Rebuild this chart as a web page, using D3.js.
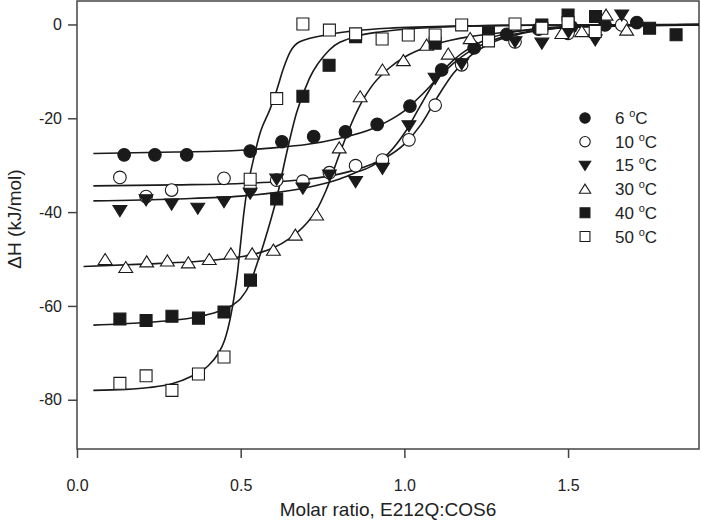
<!DOCTYPE html>
<html><head><meta charset="utf-8">
<script src="https://cdn.jsdelivr.net/npm/d3@7"></script>
<style>body{margin:0;background:#fff}svg{display:block}text{font-family:"Liberation Sans",Arial,sans-serif;fill:#222}</style>
</head><body>
<svg id="c" width="701" height="522"></svg>
<script>
// ---- data ----
const legendLabels = ["6", "10", "15", "30", "40", "50"];
const xTicks = [0, 0.5, 1.0, 1.5];
const yTicks = [0, -20, -40, -60, -80];

const s6x = [0.144,0.238,0.335,0.529,0.626,0.723,0.820,0.917,1.017,1.114,1.213,1.313,1.41,1.51,1.613,1.710];
const s6y = [-27.8,-27.8,-27.8,-27.0,-25.0,-23.9,-22.9,-21.3,-17.4,-9.7,-5.0,-2.1,-1.0,-0.5,-0.1,0.4];
const s10x = [0.131,0.211,0.289,0.449,0.529,0.610,0.690,0.771,0.851,0.933,1.014,1.094,1.175,1.338,1.50,1.664];
const s10y = [-32.6,-36.7,-35.3,-32.8,-34.9,-33.2,-33.4,-31.6,-30.1,-28.9,-24.6,-17.2,-8.6,-3.7,-1.9,-0.1];
const s15x = [0.131,0.211,0.289,0.369,0.449,0.529,0.610,0.690,0.771,0.851,0.933,1.014,1.094,1.175,1.338,1.42,1.50,1.583,1.664];
const s15y = [-39.7,-37.4,-38.3,-39.2,-37.8,-36.0,-33.0,-34.9,-32.1,-33.5,-30.7,-21.6,-11.5,-8.4,-3.7,-4.0,-1.8,-3.3,2.0];
const s30x = [0.086,0.149,0.213,0.276,0.340,0.404,0.470,0.535,0.600,0.667,0.732,0.801,0.865,0.933,0.997,1.068,1.134,1.201,1.481,1.542,1.616,1.679];
const s30y = [-50.1,-51.8,-50.6,-50.4,-50.8,-50.1,-48.9,-48.9,-48.1,-44.9,-40.6,-26.3,-15.4,-9.7,-7.7,-4.4,-6.3,-3.0,-1.9,-1.5,2.0,-1.2];
const s40x = [0.131,0.211,0.290,0.371,0.449,0.530,0.610,0.690,0.770,0.851,1.094,1.257,1.42,1.50,1.584,1.749,1.830];
const s40y = [-62.8,-63.1,-62.2,-62.6,-61.3,-54.5,-37.2,-15.3,-8.7,-2.6,-4.0,-1.8,-0.1,2.0,1.7,-0.8,-2.2];
const s50x = [0.131,0.211,0.290,0.371,0.449,0.529,0.610,0.690,0.771,0.851,0.932,1.012,1.094,1.175,1.257,1.338,1.42,1.50,1.583];
const s50y = [-76.5,-74.9,-78.0,-74.5,-70.9,-33.0,-15.8,0.1,-1.2,-2.0,-3.1,-2.25,-2.25,-0.1,-3.5,0.1,-0.8,0.4,-1.5];

// fitted curves
const f6x = [0.05,0.3,0.5,0.6,0.7,0.8,0.9,0.95,1.0,1.05,1.1,1.15,1.2,1.25,1.3,1.4,1.5,1.6,1.75,1.9];
const f6y = [-27.5,-27.2,-26.8,-26.3,-25.6,-24.3,-22.3,-20.6,-18.4,-15.2,-11.6,-8.3,-5.7,-3.9,-2.7,-1.3,-0.6,-0.3,-0.1,0];
const f10x = [0.05,0.3,0.5,0.7,0.8,0.85,0.9,0.95,1.0,1.05,1.1,1.15,1.2,1.25,1.3,1.4,1.5,1.6,1.75,1.9];
const f10y = [-34.4,-34.2,-33.9,-33.0,-31.9,-31.0,-29.8,-28.1,-25.5,-21.4,-15.6,-10.4,-6.8,-4.5,-3.0,-1.4,-0.6,-0.3,-0.1,0];
const f15x = [0.05,0.3,0.5,0.6,0.7,0.8,0.85,0.9,0.95,1.0,1.05,1.1,1.15,1.2,1.25,1.3,1.4,1.5,1.6,1.75,1.9];
const f15y = [-37.6,-37.2,-36.6,-35.9,-34.8,-33.0,-31.6,-30.2,-27.6,-23.2,-17.2,-11.4,-7.6,-5.0,-3.2,-2.1,-0.9,-0.4,-0.2,-0.1,0];
const f30x = [0.02,0.2,0.35,0.45,0.55,0.6,0.65,0.7,0.73,0.76,0.8,0.83,0.87,0.9,0.95,1.0,1.05,1.1,1.2,1.3,1.4,1.5,1.7,1.9];
const f30y = [-51.6,-51.1,-50.6,-50.0,-48.8,-47.6,-45.6,-42.5,-39.8,-35.5,-28.0,-22.5,-16.5,-13.2,-9.5,-7.0,-5.3,-4.1,-2.6,-1.7,-1.1,-0.7,-0.3,-0.1];
const f40x = [0.05,0.2,0.3,0.38,0.44,0.48,0.50,0.53,0.55,0.56,0.58,0.61,0.64,0.67,0.71,0.77,0.85,0.935,1.1,1.3,1.6,1.9];
const f40y = [-64.1,-63.6,-63.0,-62.2,-61.0,-59.6,-58.4,-55.0,-51.0,-49.0,-44.5,-37.0,-27.5,-19.0,-11.5,-5.5,-2.6,-1.5,-0.6,-0.2,-0.05,0];
const f50x = [0.05,0.15,0.22,0.29,0.35,0.40,0.43,0.45,0.47,0.48,0.49,0.50,0.51,0.52,0.535,0.56,0.59,0.61,0.63,0.65,0.68,0.78,0.95,1.2,1.5,1.9];
const f50y = [-78.0,-77.8,-77.4,-76.6,-75.0,-72.8,-70.3,-67.5,-62,-58,-53,-46.5,-40,-35,-30,-23,-18,-14,-9.5,-6.0,-3.7,-2.0,-0.8,-0.3,-0.1,0];

// ---- chart ----
const svg = d3.select("#c");
const L = 77, R = 699, T = 1, B = 449;
const x = d3.scaleLinear().domain([0, 1.9]).range([L, R]);
const y = d3.scaleLinear().domain([-90.5, 5]).range([B, T]);
const ink = "#1a1a1a";

const series = [
  {xs: s6x, ys: s6y, fx: f6x, fy: f6y, shape: "circle", fill: true},
  {xs: s10x, ys: s10y, fx: f10x, fy: f10y, shape: "circle", fill: false},
  {xs: s15x, ys: s15y, fx: f15x, fy: f15y, shape: "tdown", fill: true},
  {xs: s30x, ys: s30y, fx: f30x, fy: f30y, shape: "tup", fill: false},
  {xs: s40x, ys: s40y, fx: f40x, fy: f40y, shape: "square", fill: true},
  {xs: s50x, ys: s50y, fx: f50x, fy: f50y, shape: "square", fill: false}
];

function markerPath(shape, s) {
  if (shape === "circle") return d3.symbol(d3.symbolCircle, Math.PI * s * s)();
  if (shape === "square") { const h = s * 0.95; return `M${-h},${-h}H${h}V${h}H${-h}Z`; }
  const w = s * 1.1, h = s * 0.95;
  if (shape === "tup") return `M0,${-h}L${w},${h*0.85}L${-w},${h*0.85}Z`;
  return `M0,${h}L${w},${-h*0.85}L${-w},${-h*0.85}Z`;
}

// frame
svg.append("rect").attr("x", L).attr("y", T).attr("width", R - L).attr("height", B - T)
  .attr("fill", "none").attr("stroke", "#444").attr("stroke-width", 1.5);

// axes
const gx = svg.append("g").attr("transform", `translate(0,${B})`)
  .call(d3.axisBottom(x).tickValues(xTicks).tickFormat(d3.format(".1f")).tickSize(9).tickPadding(22));
const gy = svg.append("g").attr("transform", `translate(${L},0)`)
  .call(d3.axisLeft(y).tickValues(yTicks).tickFormat(d3.format("d")).tickSize(9).tickPadding(6));
[gx, gy].forEach(g => {
  g.select(".domain").remove();
  g.selectAll("line").attr("stroke", "#444").attr("stroke-width", 1.5);
  g.selectAll("text").attr("font-size", 16).attr("fill", "#222")
    .attr("font-family", '"Liberation Sans", Arial, sans-serif');
});
gy.selectAll("text").text(d => d === 0 ? "0" : "-" + Math.abs(d));

// axis titles
svg.append("text").attr("x", (L + R) / 2).attr("y", 516).attr("text-anchor", "middle")
  .attr("font-size", 19).text("Molar ratio, E212Q:COS6");
svg.append("text").attr("transform", `translate(21,219) rotate(-90)`).attr("text-anchor", "middle")
  .attr("font-size", 19).text("\u0394H  (kJ/mol)");

// curves
const line = d3.line().x(d => x(d[0])).y(d => y(d[1])).curve(d3.curveMonotoneX);
const plot = svg.append("g");
series.forEach(s => {
  plot.append("path").datum(s.fx.map((v, i) => [v, s.fy[i]]))
    .attr("d", line).attr("fill", "none").attr("stroke", ink).attr("stroke-width", 1.6);
});
// points
series.forEach(s => {
  plot.selectAll(null).data(s.xs.map((v, i) => [v, s.ys[i]])).enter().append("path")
    .attr("transform", d => `translate(${x(d[0])},${y(d[1])})`)
    .attr("d", markerPath(s.shape, 6.3))
    .attr("fill", s.fill ? ink : "#fff").attr("stroke", ink).attr("stroke-width", 1.1);
});

// legend
const lg = svg.append("g");
series.forEach((s, i) => {
  const cy = 118 + i * 23.7;
  lg.append("path").attr("transform", `translate(585,${cy})`).attr("d", markerPath(s.shape, 5.2))
    .attr("fill", s.fill ? ink : "#fff").attr("stroke", ink).attr("stroke-width", 1.1);
  const t = lg.append("text").attr("x", 615).attr("y", cy + 6).attr("font-size", 17);
  t.append("tspan").text(legendLabels[i] + " ");
  t.append("tspan").attr("font-size", 11).attr("dy", -7).text("o");
  t.append("tspan").attr("dy", 7).text("C");
});
</script>
</body></html>
